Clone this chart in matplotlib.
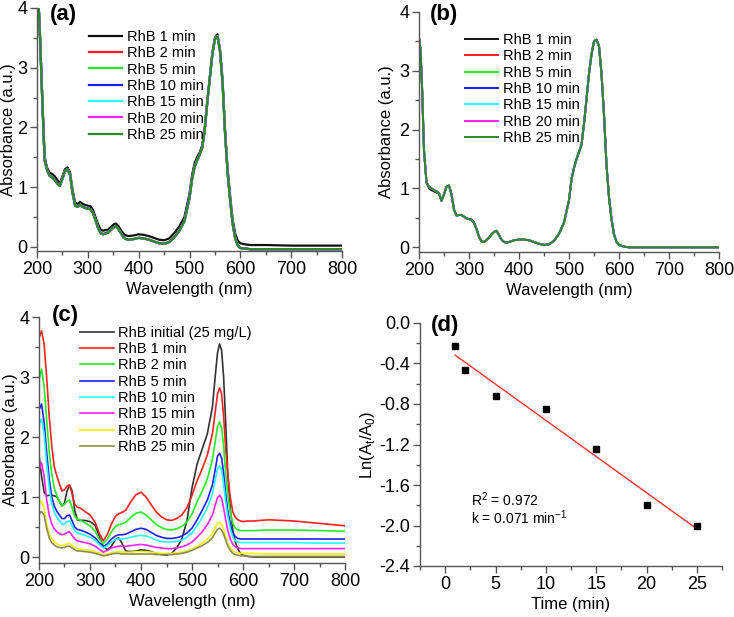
import numpy as np
import matplotlib
matplotlib.use('Agg')
import matplotlib.pyplot as plt
from matplotlib.ticker import MultipleLocator, FormatStrFormatter

plt.rcParams['font.family'] = ['Liberation Sans', 'DejaVu Sans']
plt.rcParams['mathtext.fontset'] = 'custom'
plt.rcParams['mathtext.rm'] = 'Liberation Sans'
plt.rcParams['axes.unicode_minus'] = False

# ---------------------------------------------------------------------------
# data

# panels (a) and (b): wavelength grid (nm)
wl_ab = [200, 203, 206, 210, 215, 220, 225, 230, 235, 240,
         245, 250, 255, 260, 265, 270, 275, 280, 285, 290,
         295, 300, 305, 310, 315, 320, 325, 330, 340, 345,
         350, 355, 360, 365, 370, 375, 380, 390, 400, 410,
         420, 430, 440, 450, 460, 470, 480, 490, 500, 505,
         510, 515, 520, 525, 530, 535, 540, 545, 550, 555,
         560, 565, 570, 575, 580, 585, 590, 595, 600, 610,
         620, 650, 700, 750, 800]

a_1min = [4.6, 4.1, 3.5, 2.6, 1.50, 1.32, 1.24, 1.22, 1.18, 1.12,
          1.06, 1.18, 1.30, 1.33, 1.25, 0.95, 0.74, 0.72, 0.75, 0.72,
          0.70, 0.69, 0.68, 0.62, 0.50, 0.38, 0.29, 0.27, 0.29, 0.33,
          0.37, 0.39, 0.35, 0.28, 0.22, 0.19, 0.18, 0.19, 0.21, 0.20,
          0.18, 0.15, 0.12, 0.11, 0.14, 0.23, 0.34, 0.50, 0.89, 1.20,
          1.40, 1.50, 1.58, 1.70, 2.00, 2.45, 2.85, 3.25, 3.50, 3.56,
          3.30, 2.80, 1.95, 1.30, 0.85, 0.45, 0.22, 0.10, 0.06, 0.04,
          0.03, 0.03, 0.02, 0.02, 0.02]

a_later = [4.6, 4.1, 3.5, 2.55, 1.45, 1.28, 1.19, 1.16, 1.12, 1.06,
           1.02, 1.14, 1.27, 1.30, 1.21, 0.90, 0.69, 0.67, 0.70, 0.67,
           0.65, 0.64, 0.63, 0.57, 0.45, 0.32, 0.23, 0.21, 0.24, 0.28,
           0.32, 0.35, 0.30, 0.23, 0.16, 0.13, 0.12, 0.13, 0.15, 0.14,
           0.12, 0.09, 0.06, 0.05, 0.08, 0.16, 0.27, 0.43, 0.82, 1.13,
           1.34, 1.45, 1.54, 1.66, 1.96, 2.42, 2.83, 3.23, 3.48, 3.53,
           3.28, 2.75, 1.90, 1.24, 0.78, 0.38, 0.14, 0.02, -0.02, -0.03,
           -0.04, -0.04, -0.04, -0.04, -0.04]

b_1min = [3.56, 3.36, 2.75, 1.65, 1.10, 1.00, 0.97, 0.95, 0.93, 0.91,
          0.79, 0.90, 1.03, 1.05, 0.90, 0.64, 0.54, 0.55, 0.55, 0.52,
          0.49, 0.48, 0.47, 0.42, 0.31, 0.18, 0.10, 0.09, 0.16, 0.22,
          0.26, 0.28, 0.21, 0.13, 0.09, 0.08, 0.09, 0.12, 0.13, 0.13,
          0.12, 0.09, 0.06, 0.04, 0.05, 0.11, 0.23, 0.42, 0.80, 1.16,
          1.35, 1.50, 1.62, 1.74, 2.10, 2.52, 2.95, 3.28, 3.50, 3.53,
          3.42, 2.95, 2.25, 1.40, 0.85, 0.48, 0.22, 0.09, 0.04, 0.01,
          0.0, 0.0, 0.0, 0.0, 0.0]

b_later = [3.56, 3.36, 2.75, 1.65, 1.10, 1.03, 1.00, 0.97, 0.95, 0.92,
           0.79, 0.90, 1.03, 1.05, 0.90, 0.64, 0.54, 0.55, 0.55, 0.52,
           0.49, 0.48, 0.47, 0.42, 0.31, 0.18, 0.10, 0.09, 0.16, 0.22,
           0.26, 0.28, 0.21, 0.13, 0.09, 0.08, 0.09, 0.12, 0.13, 0.13,
           0.12, 0.09, 0.06, 0.04, 0.05, 0.11, 0.23, 0.42, 0.80, 1.16,
           1.35, 1.50, 1.62, 1.74, 2.10, 2.52, 2.95, 3.28, 3.50, 3.53,
           3.42, 2.95, 2.25, 1.40, 0.85, 0.48, 0.22, 0.09, 0.04, 0.01,
           0.0, 0.0, 0.0, 0.0, 0.0]

ab_labels = ['RhB 1 min', 'RhB 2 min', 'RhB 5 min', 'RhB 10 min',
             'RhB 15 min', 'RhB 20 min', 'RhB 25 min']
ab_colors = ['#111111', '#ff1a1a', '#22ee22', '#1a1aff', '#22ffff', '#ff22ff', '#2a8a2a']

# panel (c)
wl_c = [200, 205, 210, 215, 220, 225, 230, 235, 240, 245,
        250, 255, 260, 265, 270, 275, 280, 290, 300, 310,
        318, 326, 334, 342, 350, 356, 362, 370, 380, 390,
        400, 410, 420, 430, 440, 450, 460, 470, 480, 490,
        500, 510, 520, 530, 540, 546, 550, 554, 558, 562,
        566, 570, 575, 580, 585, 590, 595, 600, 610, 620,
        650, 700, 750, 800]

c_initial = [1.70, 1.35, 1.08, 1.02, 1.03, 1.03, 1.02, 1.00, 0.93, 0.85,
             0.90, 1.10, 1.20, 1.10, 0.78, 0.62, 0.61, 0.61, 0.59, 0.53,
             0.35, 0.18, 0.12, 0.18, 0.29, 0.32, 0.24, 0.10, 0.09, 0.10,
             0.12, 0.11, 0.09, 0.06, 0.04, 0.03, 0.06, 0.15, 0.30, 0.60,
             1.15, 1.55, 1.80, 2.05, 2.50, 3.05, 3.40, 3.55, 3.45, 3.00,
             2.25, 1.40, 0.80, 0.45, 0.25, 0.13, 0.06, 0.03, 0.01, 0.0,
             0.0, 0.0, 0.0, 0.0]
c_1min = [3.65, 3.77, 3.55, 3.00, 2.35, 1.85, 1.50, 1.35, 1.22, 1.10,
          1.12, 1.18, 1.20, 1.05, 0.88, 0.83, 0.82, 0.76, 0.70, 0.58,
          0.40, 0.27, 0.38, 0.55, 0.68, 0.72, 0.74, 0.78, 0.92, 1.04,
          1.08, 1.00, 0.87, 0.75, 0.67, 0.62, 0.61, 0.64, 0.70, 0.82,
          1.03, 1.27, 1.47, 1.70, 2.05, 2.45, 2.72, 2.82, 2.72, 2.35,
          1.80, 1.40, 1.00, 0.75, 0.66, 0.62, 0.60, 0.59, 0.60, 0.60,
          0.62, 0.60, 0.56, 0.52]
c_2min = [2.95, 3.13, 2.85, 2.30, 1.75, 1.38, 1.15, 1.02, 0.92, 0.86,
          0.88, 0.93, 0.95, 0.82, 0.68, 0.63, 0.62, 0.57, 0.52, 0.43,
          0.30, 0.22, 0.30, 0.42, 0.51, 0.54, 0.55, 0.58, 0.66, 0.73,
          0.75, 0.70, 0.62, 0.54, 0.49, 0.46, 0.45, 0.47, 0.51, 0.58,
          0.72, 0.92, 1.10, 1.30, 1.62, 1.95, 2.18, 2.25, 2.15, 1.85,
          1.40, 1.05, 0.75, 0.56, 0.48, 0.45, 0.44, 0.44, 0.44, 0.44,
          0.45, 0.45, 0.44, 0.43]
c_5min = [2.45, 2.55, 2.25, 1.75, 1.30, 1.00, 0.85, 0.76, 0.70, 0.64,
          0.64, 0.69, 0.70, 0.60, 0.50, 0.46, 0.45, 0.42, 0.38, 0.32,
          0.24, 0.17, 0.22, 0.30, 0.35, 0.37, 0.37, 0.38, 0.42, 0.46,
          0.48, 0.46, 0.41, 0.36, 0.33, 0.31, 0.31, 0.32, 0.35, 0.40,
          0.48, 0.62, 0.78, 0.95, 1.20, 1.48, 1.68, 1.73, 1.65, 1.40,
          1.05, 0.78, 0.55, 0.40, 0.34, 0.31, 0.30, 0.30, 0.30, 0.30,
          0.30, 0.30, 0.30, 0.30]
c_10min = [2.20, 2.30, 2.05, 1.55, 1.15, 0.88, 0.75, 0.66, 0.60, 0.55,
           0.55, 0.59, 0.60, 0.52, 0.44, 0.40, 0.39, 0.36, 0.33, 0.28,
           0.21, 0.15, 0.19, 0.25, 0.29, 0.30, 0.30, 0.31, 0.33, 0.35,
           0.36, 0.35, 0.32, 0.28, 0.26, 0.25, 0.25, 0.26, 0.28, 0.33,
           0.40, 0.52, 0.66, 0.82, 1.05, 1.30, 1.47, 1.52, 1.45, 1.22,
           0.92, 0.68, 0.47, 0.33, 0.27, 0.25, 0.24, 0.24, 0.24, 0.24,
           0.24, 0.24, 0.23, 0.23]
c_15min = [1.45, 1.57, 1.35, 0.95, 0.70, 0.55, 0.47, 0.42, 0.39, 0.37,
           0.38, 0.41, 0.42, 0.36, 0.30, 0.27, 0.26, 0.24, 0.22, 0.18,
           0.13, 0.08, 0.11, 0.15, 0.17, 0.18, 0.18, 0.18, 0.19, 0.20,
           0.21, 0.20, 0.18, 0.16, 0.15, 0.14, 0.14, 0.15, 0.17, 0.20,
           0.25, 0.33, 0.42, 0.54, 0.70, 0.88, 0.99, 1.03, 0.98, 0.82,
           0.62, 0.45, 0.30, 0.21, 0.17, 0.15, 0.14, 0.14, 0.14, 0.14,
           0.14, 0.14, 0.14, 0.14]
c_20min = [0.88, 0.93, 0.82, 0.55, 0.38, 0.30, 0.25, 0.22, 0.20, 0.19,
           0.20, 0.22, 0.23, 0.19, 0.16, 0.14, 0.13, 0.12, 0.11, 0.09,
           0.06, 0.04, 0.05, 0.07, 0.08, 0.09, 0.08, 0.08, 0.08, 0.09,
           0.09, 0.09, 0.08, 0.07, 0.06, 0.06, 0.06, 0.07, 0.08, 0.10,
           0.13, 0.18, 0.23, 0.30, 0.39, 0.50, 0.56, 0.58, 0.55, 0.46,
           0.34, 0.24, 0.15, 0.10, 0.08, 0.07, 0.06, 0.06, 0.06, 0.06,
           0.05, 0.05, 0.05, 0.05]
c_25min = [0.72, 0.76, 0.70, 0.48, 0.32, 0.24, 0.20, 0.17, 0.16, 0.15,
           0.16, 0.18, 0.18, 0.15, 0.12, 0.10, 0.10, 0.09, 0.08, 0.06,
           0.04, 0.02, 0.03, 0.05, 0.06, 0.06, 0.05, 0.05, 0.05, 0.05,
           0.05, 0.05, 0.05, 0.04, 0.04, 0.04, 0.04, 0.05, 0.06, 0.08,
           0.11, 0.15, 0.19, 0.24, 0.32, 0.41, 0.46, 0.48, 0.45, 0.38,
           0.28, 0.19, 0.11, 0.06, 0.04, 0.03, 0.02, 0.02, 0.01, 0.01,
           0.01, 0.01, 0.01, 0.01]

c_labels = ['RhB initial (25 mg/L)', 'RhB 1 min', 'RhB 2 min', 'RhB 5 min',
            'RhB 10 min', 'RhB 15 min', 'RhB 20 min', 'RhB 25 min']
c_colors = ['#333333', '#ff2020', '#22ee22', '#2020ff', '#22ffff', '#ff22ff', '#f2f200', '#8c8c50']

# panel (d): kinetics
time_min = [1, 2, 5, 10, 15, 20, 25]
ln_ratio = [-0.23, -0.46, -0.72, -0.85, -1.24, -1.80, -2.00]

# ---------------------------------------------------------------------------

def style_axes(ax, xmaj, xmin, ymaj, ymin):
    for s in ['top', 'right']:
        ax.spines[s].set_visible(False)
    for s in ['left', 'bottom']:
        ax.spines[s].set_color('#555555')
        ax.spines[s].set_linewidth(1.0)
    ax.xaxis.set_major_locator(MultipleLocator(xmaj))
    ax.xaxis.set_minor_locator(MultipleLocator(xmin))
    ax.yaxis.set_major_locator(MultipleLocator(ymaj))
    ax.yaxis.set_minor_locator(MultipleLocator(ymin))
    ax.tick_params(which='major', direction='out', length=5, width=1,
                   color='#555555', labelsize=13, pad=2)
    ax.tick_params(which='minor', direction='out', length=3, width=1, color='#555555')


def add_legend(ax, x, y):
    ax.legend(loc='upper left', bbox_to_anchor=(x, y), frameon=False, fontsize=10.5,
              handlelength=2.3, handletextpad=0.3, labelspacing=0.16,
              borderpad=0, borderaxespad=0)


fig = plt.figure(figsize=(7.34, 6.17), dpi=100)

# ---- (a)
ax_a = fig.add_axes([37 / 734, 1 - 251 / 617, 305 / 734, 243 / 617])
series_a = [a_1min] + [a_later] * 6
for vals, col, lab in zip(series_a, ab_colors, ab_labels):
    ax_a.plot(wl_ab, vals, color=col, lw=1.6, label=lab)
ax_a.set_xlim(200, 800)
ax_a.set_ylim(-0.07, 4)
style_axes(ax_a, 100, 50, 1, 0.5)
ax_a.set_xlabel('Wavelength (nm)', fontsize=12, labelpad=3)
ax_a.set_ylabel('Absorbance (a.u.)', fontsize=12, labelpad=1)
add_legend(ax_a, 0.17, 0.91)
ax_a.text(0.043, 0.973, '(a)', transform=ax_a.transAxes, fontsize=16, fontweight='bold', va='center')

# ---- (b)
ax_b = fig.add_axes([419 / 734, 1 - 252 / 617, 300 / 734, 240 / 617])
series_b = [b_1min] + [b_later] * 6
for vals, col, lab in zip(series_b, ab_colors, ab_labels):
    ax_b.plot(wl_ab, vals, color=col, lw=1.4, label=lab)
ax_b.set_xlim(200, 800)
ax_b.set_ylim(-0.08, 4)
style_axes(ax_b, 100, 50, 1, 0.5)
ax_b.set_xlabel('Wavelength (nm)', fontsize=12, labelpad=3)
ax_b.set_ylabel('Absorbance (a.u.)', fontsize=12, labelpad=4)
add_legend(ax_b, 0.153, 0.912)
ax_b.text(0.037, 0.99, '(b)', transform=ax_b.transAxes, fontsize=16, fontweight='bold', va='center')

# ---- (c)
ax_c = fig.add_axes([39 / 734, 1 - 563 / 617, 306 / 734, 246 / 617])
series_c = [c_initial, c_1min, c_2min, c_5min, c_10min, c_15min, c_20min, c_25min]
for vals, col, lab in zip(series_c, c_colors, c_labels):
    ax_c.plot(wl_c, vals, color=col, lw=1.2, label=lab)
ax_c.set_xlim(200, 800)
ax_c.set_ylim(-0.1, 4)
style_axes(ax_c, 100, 50, 1, 0.5)
ax_c.set_xlabel('Wavelength (nm)', fontsize=12, labelpad=3)
ax_c.set_ylabel('Absorbance (a.u.)', fontsize=12, labelpad=1)
add_legend(ax_c, 0.134, 0.965)
ax_c.text(0.042, 1.008, '(c)', transform=ax_c.transAxes, fontsize=16, fontweight='bold', va='center')

# ---- (d)
ax_d = fig.add_axes([420 / 734, 1 - 566 / 617, 302 / 734, 243 / 617])
ax_d.plot(time_min, ln_ratio, 's', color='black', ms=5, zorder=3)
slope, intercept = np.polyfit(time_min, ln_ratio, 1)
t_fit = np.array([time_min[0], time_min[-1]])
ax_d.plot(t_fit, slope * t_fit + intercept, color='#ff3030', lw=1.0, zorder=2)
ax_d.set_xlim(-2.5, 27.5)
ax_d.set_ylim(-2.4, 0.0)
style_axes(ax_d, 5, 2.5, 0.4, 0.2)
ax_d.yaxis.set_major_formatter(FormatStrFormatter('%.1f'))
ax_d.set_xlabel('Time (min)', fontsize=12, labelpad=3)
ax_d.set_ylabel(r'Ln(A$_\mathrm{t}$/A$_\mathrm{0}$)', fontsize=12, labelpad=2)
ax_d.text(2.6, -1.75, r'R$^\mathrm{2}$ = 0.972', fontsize=10, va='center')
ax_d.text(2.6, -1.92, r'k = 0.071 min$^\mathrm{-1}$', fontsize=10, va='center')
ax_d.text(0.036, 0.99, '(d)', transform=ax_d.transAxes, fontsize=16, fontweight='bold', va='center')

fig.savefig('out.png', dpi=100)
